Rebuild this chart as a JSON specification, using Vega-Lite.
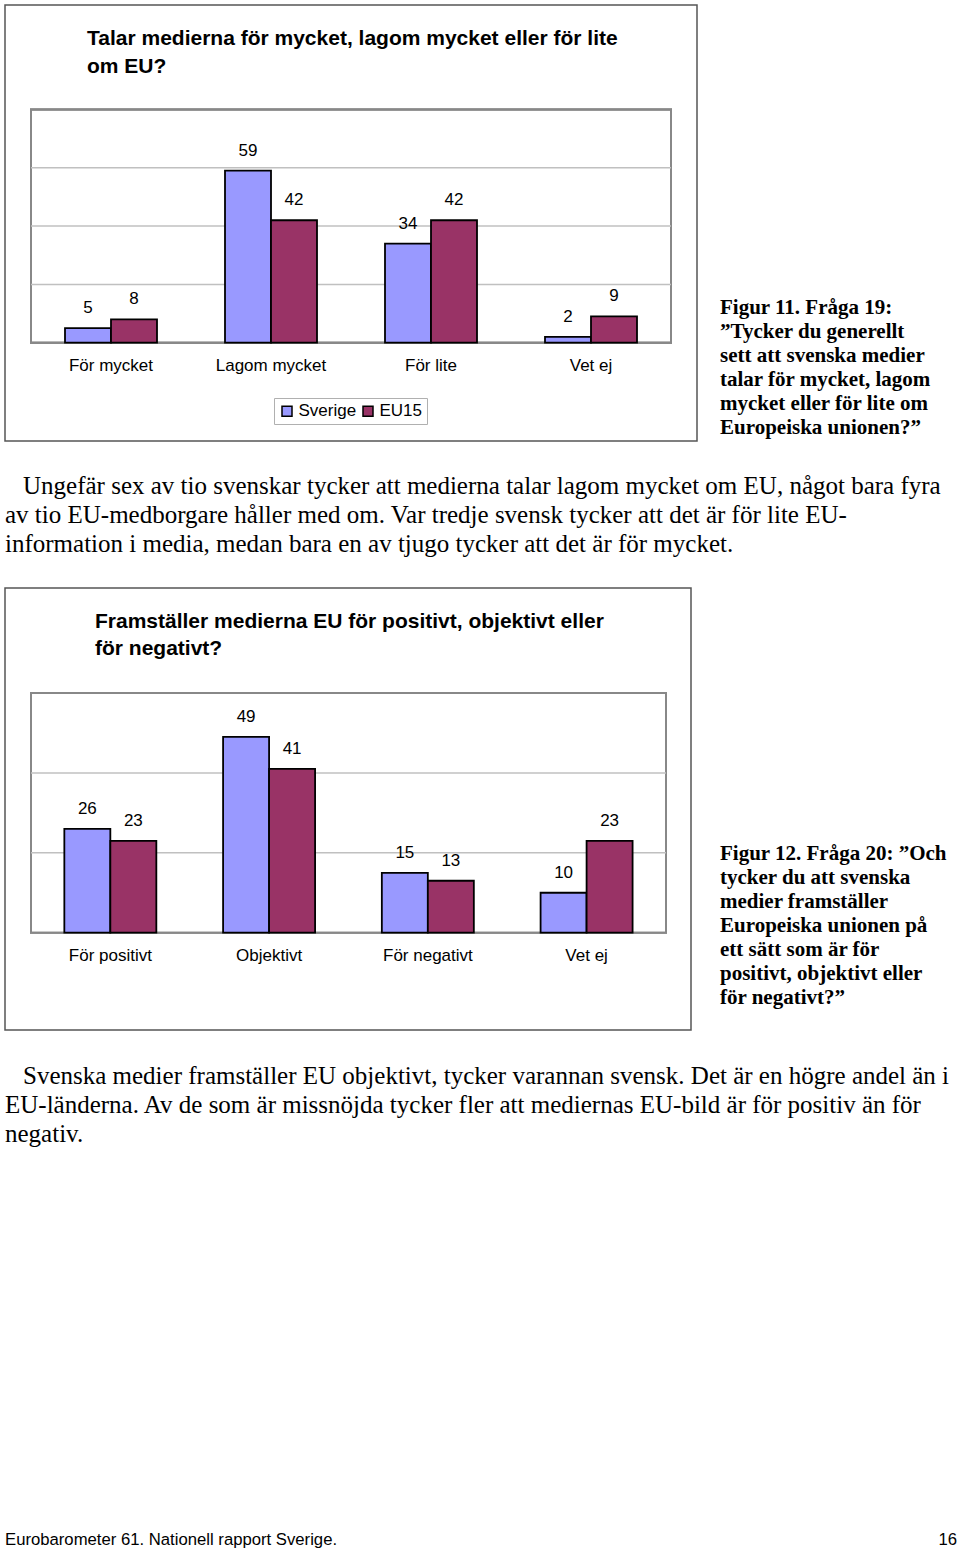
{
  "$schema": "https://vega.github.io/schema/vega-lite/v6.json",
  "padding": {"left": 4, "top": 4, "right": 0, "bottom": 0},
  "background": "white",
  "config": {"view": {"stroke": null}, "font": "Liberation Sans"},
  "columns": 2,
  "spacing": {"row": 0, "column": 23},
  "bounds": "flush",
  "concat": [
    {
      "width": 692,
      "height": 436,
      "view": {"stroke": "#555555", "strokeWidth": 1.5},
      "title": {
        "text": ["Talar medierna för mycket, lagom mycket eller för lite", "om EU?"],
        "anchor": "start", "frame": "group", "orient": "top", "baseline": "top",
        "offset": -47, "dx": 82, "dy": 25, "fontSize": 21, "font": "Liberation Sans",
        "fontWeight": "bold", "lineHeight": 28, "color": "black"
      },
      "resolve": {"scale": {"x": "independent"}},
      "layer": [
        {
          "data": {"values": [{"g": 20}, {"g": 40}, {"g": 60}]},
          "layer": [
            {
              "mark": {"type": "rect", "fill": "white", "fillOpacity": 0, "stroke": "#888888", "strokeWidth": 2},
              "encoding": {
                "x": {"datum": 0, "type": "quantitative", "scale": {"domain": [0, 1], "range": [26, 666], "nice": false, "zero": false}, "axis": null},
                "x2": {"datum": 1},
                "y": {"datum": 0, "type": "quantitative", "scale": {"domain": [0, 80], "range": [337.7, 104.5], "nice": false, "zero": false}, "axis": null},
                "y2": {"datum": 80}
              }
            },
            {
              "mark": {"type": "rule", "stroke": "#c0c0c0", "strokeWidth": 1.5},
              "encoding": {
                "x": {"datum": 0, "type": "quantitative", "scale": {"domain": [0, 1], "range": [26, 666], "nice": false, "zero": false}, "axis": null},
                "x2": {"datum": 1},
                "y": {"field": "g", "type": "quantitative", "axis": null}
              }
            }
          ]
        },
        {
          "data": {"values": [
            {"cat": "För mycket", "series": "Sverige", "value": 5},
            {"cat": "För mycket", "series": "EU15", "value": 8},
            {"cat": "Lagom mycket", "series": "Sverige", "value": 59},
            {"cat": "Lagom mycket", "series": "EU15", "value": 42},
            {"cat": "För lite", "series": "Sverige", "value": 34},
            {"cat": "För lite", "series": "EU15", "value": 42},
            {"cat": "Vet ej", "series": "Sverige", "value": 2},
            {"cat": "Vet ej", "series": "EU15", "value": 9}
          ]},
          "layer": [
            {
              "mark": {"type": "bar", "stroke": "black", "strokeWidth": 1.8},
              "encoding": {
                "x": {"field": "cat", "type": "nominal", "scale": {"domain": ["För mycket", "Lagom mycket", "För lite", "Vet ej"], "range": [26, 666], "paddingInner": 0.425, "paddingOuter": 0.2125}, "axis": null},
                "xOffset": {"field": "series", "type": "nominal", "scale": {"domain": ["Sverige", "EU15"], "paddingInner": 0, "paddingOuter": 0}},
                "y": {"field": "value", "type": "quantitative", "axis": null},
                "color": {
                  "field": "series", "type": "nominal",
                  "scale": {"domain": ["Sverige", "EU15"], "range": ["#9999ff", "#993366"]},
                  "legend": {
                    "orient": "none", "legendX": 269, "legendY": 393, "direction": "horizontal",
                    "title": null, "strokeColor": "#b0b0b0", "fillColor": "white", "padding": 4.5,
                    "symbolType": "square", "symbolSize": 100, "symbolStrokeColor": "black",
                    "symbolStrokeWidth": 1.5, "symbolOpacity": 1, "labelFontSize": 17,
                    "labelFont": "Liberation Sans", "labelColor": "black", "labelOffset": 3,
                    "columnPadding": 3
                  }
                }
              }
            },
            {
              "mark": {"type": "text", "dy": -20, "baseline": "middle", "fontSize": 17, "font": "Liberation Sans", "color": "black"},
              "encoding": {
                "x": {"field": "cat", "type": "nominal", "axis": null},
                "xOffset": {"field": "series", "type": "nominal"},
                "y": {"field": "value", "type": "quantitative", "axis": null},
                "text": {"field": "value"}
              }
            },
            {
              "transform": [{"filter": "datum.series === 'Sverige'"}],
              "mark": {"type": "text", "dy": 23, "baseline": "middle", "fontSize": 17, "font": "Liberation Sans", "color": "black"},
              "encoding": {
                "x": {"field": "cat", "type": "nominal", "axis": null},
                "y": {"datum": 0, "type": "quantitative", "axis": null},
                "text": {"field": "cat"}
              }
            }
          ]
        }
      ]
    },
    {
      "width": 237,
      "height": 436,
      "data": {"values": [
        {"line": 1, "text": "Figur 11. Fråga 19:"},
        {"line": 2, "text": "”Tycker du generellt"},
        {"line": 3, "text": "sett att svenska medier"},
        {"line": 4, "text": "talar för mycket, lagom"},
        {"line": 5, "text": "mycket eller för lite om"},
        {"line": 6, "text": "Europeiska unionen?”"}
      ]},
      "mark": {"type": "text", "align": "left", "baseline": "middle", "font": "Liberation Serif", "fontSize": 21, "fontWeight": "bold", "color": "black"},
      "encoding": {
        "x": {"datum": 0, "type": "quantitative", "scale": {"domain": [0, 1], "nice": false, "zero": false}, "axis": null},
        "y": {"field": "line", "type": "ordinal", "scale": {"type": "point", "range": [303, 423], "padding": 0}, "axis": null},
        "text": {"field": "text"}
      }
    },
    {
      "width": 692,
      "height": 147,
      "data": {"values": [
        {"line": 1, "text": "Ungefär sex av tio svenskar tycker att medierna talar lagom mycket om EU, något bara fyra"},
        {"line": 2, "text": "av tio EU-medborgare håller med om. Var tredje svensk tycker att det är för lite EU-"},
        {"line": 3, "text": "information i media, medan bara en av tjugo tycker att det är för mycket."}
      ]},
      "encoding": {
        "x": {"datum": 0, "type": "quantitative", "scale": {"domain": [0, 1], "nice": false, "zero": false}, "axis": null},
        "y": {"field": "line", "type": "ordinal", "scale": {"type": "point", "range": [45, 103], "padding": 0}, "axis": null},
        "text": {"field": "text"}
      },
      "layer": [
        {
          "transform": [{"filter": "datum.line === 1"}],
          "mark": {"type": "text", "align": "left", "baseline": "middle", "dx": 18, "font": "Liberation Serif", "fontSize": 25, "color": "black"}
        },
        {
          "transform": [{"filter": "datum.line !== 1"}],
          "mark": {"type": "text", "align": "left", "baseline": "middle", "font": "Liberation Serif", "fontSize": 25, "color": "black"}
        }
      ]
    },
    {
      "width": 237,
      "height": 1,
      "data": {"values": []},
      "mark": "point",
      "encoding": {}
    },
    {
      "width": 686,
      "height": 442,
      "view": {"stroke": "#555555", "strokeWidth": 1.5},
      "title": {
        "text": ["Framställer medierna EU för positivt, objektivt eller", "för negativt?"],
        "anchor": "start", "frame": "group", "orient": "top", "baseline": "top",
        "offset": -45.5, "dx": 90, "dy": 25, "fontSize": 21, "font": "Liberation Sans",
        "fontWeight": "bold", "lineHeight": 27, "color": "black"
      },
      "resolve": {"scale": {"x": "independent"}},
      "layer": [
        {
          "data": {"values": [{"g": 20}, {"g": 40}]},
          "layer": [
            {
              "mark": {"type": "rect", "fill": "white", "fillOpacity": 0, "stroke": "#888888", "strokeWidth": 2},
              "encoding": {
                "x": {"datum": 0, "type": "quantitative", "scale": {"domain": [0, 1], "range": [26, 661], "nice": false, "zero": false}, "axis": null},
                "x2": {"datum": 1},
                "y": {"datum": 0, "type": "quantitative", "scale": {"domain": [0, 60], "range": [344.7, 105], "nice": false, "zero": false}, "axis": null},
                "y2": {"datum": 60}
              }
            },
            {
              "mark": {"type": "rule", "stroke": "#c0c0c0", "strokeWidth": 1.5},
              "encoding": {
                "x": {"datum": 0, "type": "quantitative", "scale": {"domain": [0, 1], "range": [26, 661], "nice": false, "zero": false}, "axis": null},
                "x2": {"datum": 1},
                "y": {"field": "g", "type": "quantitative", "axis": null}
              }
            }
          ]
        },
        {
          "data": {"values": [
            {"cat": "För positivt", "series": "Sverige", "value": 26},
            {"cat": "För positivt", "series": "EU15", "value": 23},
            {"cat": "Objektivt", "series": "Sverige", "value": 49},
            {"cat": "Objektivt", "series": "EU15", "value": 41},
            {"cat": "För negativt", "series": "Sverige", "value": 15},
            {"cat": "För negativt", "series": "EU15", "value": 13},
            {"cat": "Vet ej", "series": "Sverige", "value": 10},
            {"cat": "Vet ej", "series": "EU15", "value": 23}
          ]},
          "layer": [
            {
              "mark": {"type": "bar", "stroke": "black", "strokeWidth": 1.8},
              "encoding": {
                "x": {"field": "cat", "type": "nominal", "scale": {"domain": ["För positivt", "Objektivt", "För negativt", "Vet ej"], "range": [26, 661], "paddingInner": 0.42, "paddingOuter": 0.21}, "axis": null},
                "xOffset": {"field": "series", "type": "nominal", "scale": {"domain": ["Sverige", "EU15"], "paddingInner": 0, "paddingOuter": 0}},
                "y": {"field": "value", "type": "quantitative", "axis": null},
                "color": {
                  "field": "series", "type": "nominal",
                  "scale": {"domain": ["Sverige", "EU15"], "range": ["#9999ff", "#993366"]},
                  "legend": {
                    "orient": "none", "legendX": 267, "legendY": 401, "direction": "horizontal",
                    "title": null, "strokeColor": "#b0b0b0", "fillColor": "white", "padding": 4.5,
                    "symbolType": "square", "symbolSize": 100, "symbolStrokeColor": "black",
                    "symbolStrokeWidth": 1.5, "symbolOpacity": 1, "labelFontSize": 17,
                    "labelFont": "Liberation Sans", "labelColor": "black", "labelOffset": 3,
                    "columnPadding": 3
                  }
                }
              }
            },
            {
              "mark": {"type": "text", "dy": -20, "baseline": "middle", "fontSize": 17, "font": "Liberation Sans", "color": "black"},
              "encoding": {
                "x": {"field": "cat", "type": "nominal", "axis": null},
                "xOffset": {"field": "series", "type": "nominal"},
                "y": {"field": "value", "type": "quantitative", "axis": null},
                "text": {"field": "value"}
              }
            },
            {
              "transform": [{"filter": "datum.series === 'Sverige'"}],
              "mark": {"type": "text", "dy": 23.5, "baseline": "middle", "fontSize": 17, "font": "Liberation Sans", "color": "black"},
              "encoding": {
                "x": {"field": "cat", "type": "nominal", "axis": null},
                "y": {"datum": 0, "type": "quantitative", "axis": null},
                "text": {"field": "cat"}
              }
            }
          ]
        }
      ]
    },
    {
      "width": 237,
      "height": 442,
      "data": {"values": [
        {"line": 1, "text": "Figur 12. Fråga 20: ”Och"},
        {"line": 2, "text": "tycker du att svenska"},
        {"line": 3, "text": "medier framställer"},
        {"line": 4, "text": "Europeiska unionen på"},
        {"line": 5, "text": "ett sätt som är för"},
        {"line": 6, "text": "positivt, objektivt eller"},
        {"line": 7, "text": "för negativt?”"}
      ]},
      "mark": {"type": "text", "align": "left", "baseline": "middle", "font": "Liberation Serif", "fontSize": 21, "fontWeight": "bold", "color": "black"},
      "encoding": {
        "x": {"datum": 0, "type": "quantitative", "scale": {"domain": [0, 1], "nice": false, "zero": false}, "axis": null},
        "y": {"field": "line", "type": "ordinal", "scale": {"type": "point", "range": [266, 410], "padding": 0}, "axis": null},
        "text": {"field": "text"}
      }
    },
    {
      "width": 692,
      "height": 500,
      "data": {"values": [
        {"line": 1, "text": "Svenska medier framställer EU objektivt, tycker varannan svensk. Det är en högre andel än i"},
        {"line": 2, "text": "EU-länderna. Av de som är missnöjda tycker fler att mediernas EU-bild är för positiv än för"},
        {"line": 3, "text": "negativ."}
      ]},
      "encoding": {
        "x": {"datum": 0, "type": "quantitative", "scale": {"domain": [0, 1], "nice": false, "zero": false}, "axis": null},
        "y": {"field": "line", "type": "ordinal", "scale": {"type": "point", "range": [46, 104], "padding": 0}, "axis": null},
        "text": {"field": "text"}
      },
      "layer": [
        {
          "transform": [{"filter": "datum.line === 1"}],
          "mark": {"type": "text", "align": "left", "baseline": "middle", "dx": 18, "font": "Liberation Serif", "fontSize": 25, "color": "black"}
        },
        {
          "transform": [{"filter": "datum.line !== 1"}],
          "mark": {"type": "text", "align": "left", "baseline": "middle", "font": "Liberation Serif", "fontSize": 25, "color": "black"}
        }
      ]
    },
    {
      "width": 237,
      "height": 1,
      "data": {"values": []},
      "mark": "point",
      "encoding": {}
    },
    {
      "width": 692,
      "height": 20,
      "data": {"values": [{"text": "Eurobarometer 61. Nationell rapport Sverige."}]},
      "mark": {"type": "text", "align": "left", "baseline": "middle", "font": "Liberation Sans", "fontSize": 16.7, "color": "black"},
      "encoding": {
        "x": {"datum": 0, "type": "quantitative", "scale": {"domain": [0, 1], "nice": false, "zero": false}, "axis": null},
        "text": {"field": "text"}
      }
    },
    {
      "width": 237,
      "height": 20,
      "data": {"values": [{"text": "16"}]},
      "mark": {"type": "text", "align": "right", "baseline": "middle", "font": "Liberation Sans", "fontSize": 16.7, "color": "black"},
      "encoding": {
        "x": {"datum": 1, "type": "quantitative", "scale": {"domain": [0, 1], "nice": false, "zero": false}, "axis": null},
        "text": {"field": "text"}
      }
    }
  ]
}
